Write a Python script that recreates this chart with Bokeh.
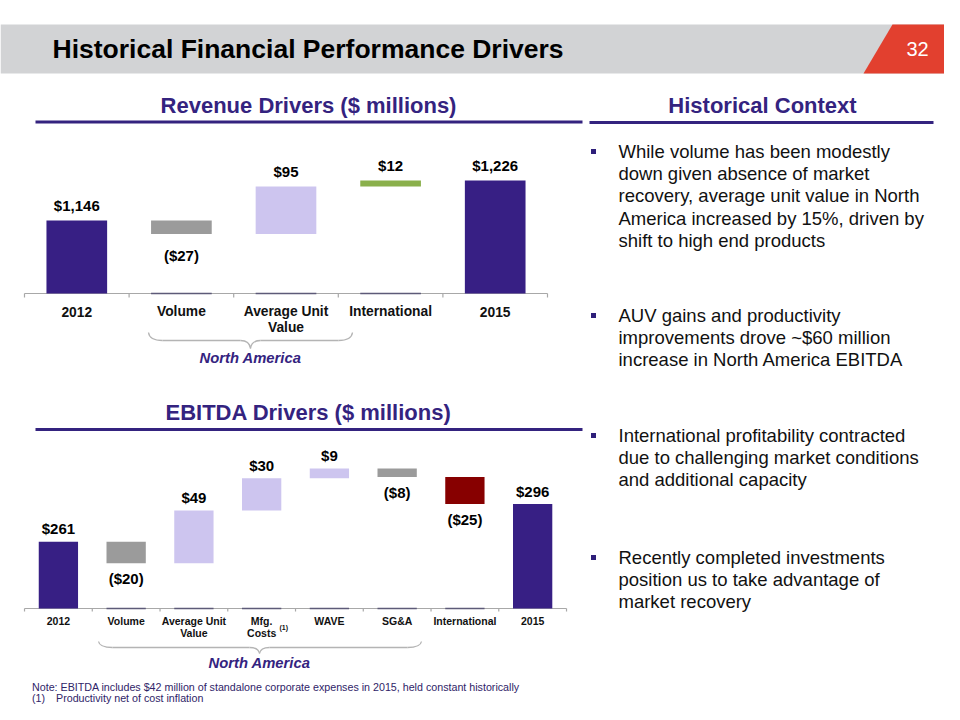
from bokeh.plotting import figure
from bokeh.models import Range1d
from bokeh.core.properties import value
from bokeh.embed import file_html
from bokeh.resources import INLINE

# ---------------- data ----------------
rev_categories = ["2012", "Volume", "Average Unit\nValue", "International", "2015"]
rev_values = [1146, -27, 95, 12, 1226]
rev_labels = ["$1,146", "($27)", "$95", "$12", "$1,226"]
rev_base = 1000

ebitda_categories = ["2012", "Volume", "Average Unit\nValue", "Mfg.\nCosts", "WAVE", "SG&A", "International", "2015"]
ebitda_values = [261, -20, 49, 30, 9, -8, -25, 296]
ebitda_labels = ["$261", "($20)", "$49", "$30", "$9", "($8)", "($25)", "$296"]
ebitda_base = 199

bullets = [
    "While volume has been modestly\ndown given absence of market\nrecovery, average unit value in North\nAmerica increased by 15%, driven by\nshift to high end products",
    "AUV gains and productivity\nimprovements drove ~$60 million\nincrease in North America EBITDA",
    "International profitability contracted\ndue to challenging market conditions\nand additional capacity",
    "Recently completed investments\nposition us to take advantage of\nmarket recovery",
]

# ---------------- styles ----------------
DARK = "#371f84"
GRAY = "#9b9b9b"
LAV = "#cdc5ef"
GREEN = "#8ab04c"
RED = "#870000"
TITLE = "#34237f"
AXIS = "#a8a8a8"
FONT = value("Liberation Sans")

rev_colors = [DARK, GRAY, LAV, GREEN, DARK]
ebitda_colors = [DARK, GRAY, LAV, LAV, LAV, GRAY, RED, DARK]


def waterfall(vals, base):
    bottoms, tops = [], []
    run = 0
    n = len(vals)
    for i, v in enumerate(vals):
        if i == 0 or i == n - 1:
            bottoms.append(base)
            tops.append(v)
            run = v
        else:
            new = run + v
            bottoms.append(min(run, new))
            tops.append(max(run, new))
            run = new
    return bottoms, tops


W, H = 944, 704
p = figure(width=W, height=H, x_range=Range1d(0, 944), y_range=Range1d(704, 0),
           x_axis_type=None, y_axis_type=None, toolbar_location=None,
           output_backend="svg", min_border=0, outline_line_color=None)
p.background_fill_color = "white"
p.border_fill_color = "white"
p.grid.visible = False

p.extra_x_ranges = {"rx": Range1d(-0.7294, 8.2954), "ex": Range1d(-0.8546, 13.079)}
p.extra_y_ranges = {"ry": Range1d(178, 1586), "ey": Range1d(109.86, 763.53)}

# ---------------- header ----------------
p.quad(left=[0], right=[944], top=[24], bottom=[73], fill_color="#d2d3d5", line_color=None)
p.patch([892, 944, 944, 863], [24, 24, 73, 73], fill_color="#e2402f", line_color=None)
p.text(x=[52], y=[48], text=["Historical Financial Performance Drivers"], text_font=FONT,
       text_font_style="bold", text_font_size="26.5px", text_color="black",
       text_baseline="middle", text_align="left")
p.text(x=[917], y=[48], text=["32"], text_font=FONT, text_font_size="20px",
       text_color="white", text_baseline="middle", text_align="center")

# ---------------- section titles ----------------
p.text(x=[308, 308, 762], y=[105, 412, 105],
       text=["Revenue Drivers ($ millions)", "EBITDA Drivers ($ millions)", "Historical Context"],
       text_font=FONT, text_font_style="bold", text_font_size="22px", text_color=TITLE,
       text_baseline="middle", text_align="center")
p.segment(x0=[35, 35, 589], y0=[121.5, 429, 122], x1=[582, 582, 933], y1=[121.5, 429, 122],
          line_color=TITLE, line_width=3)


def draw_chart(cats, vals, labels, colors, base, xr, yr, tick_units, label_up, label_dn,
               cat_y, cat_dy, cat_size, val_size):
    n = len(vals)
    idx = list(range(n))
    bottoms, tops = waterfall(vals, base)
    # axis line and ticks
    p.segment(x0=[-0.5], y0=[base], x1=[n - 0.5], y1=[base], line_color=AXIS, line_width=1.2,
              x_range_name=xr, y_range_name=yr)
    tx = [i - 0.5 for i in range(n + 1)]
    p.segment(x0=tx, y0=[base] * len(tx), x1=tx, y1=[base - tick_units] * len(tx),
              line_color=AXIS, line_width=1.2, x_range_name=xr, y_range_name=yr)
    # hidden base bars outline at baseline
    mids = idx[1:-1]
    p.segment(x0=[i - 0.29 for i in mids], y0=[base] * len(mids),
              x1=[i + 0.29 for i in mids], y1=[base] * len(mids),
              line_color="#5d5a78", line_width=1.6, x_range_name=xr, y_range_name=yr)
    # bars
    p.vbar(x=idx, width=0.58, bottom=bottoms, top=tops, fill_color=colors, line_color=None,
           x_range_name=xr, y_range_name=yr)
    # value labels
    ly, lo = [], []
    for i, v in enumerate(vals):
        if v >= 0:
            ly.append(tops[i]); lo.append(-label_up)
        else:
            ly.append(bottoms[i]); lo.append(label_dn)
    p.text(x=idx, y=ly, y_offset=lo, text=labels, text_font=FONT, text_font_style="bold",
           text_font_size=val_size, text_color="black", text_align="center",
           text_baseline="middle", x_range_name=xr, y_range_name=yr)
    # category labels
    cx, cy, ct = [], [], []
    for i, c in enumerate(cats):
        for j, line in enumerate(c.split("\n")):
            cx.append(i); cy.append(cat_y + j * cat_dy); ct.append(line)
    p.text(x=cx, y=cy, text=ct, text_font=FONT, text_font_style="bold",
           text_font_size=cat_size, text_color="#111111", text_align="center",
           text_baseline="middle", x_range_name=xr)


draw_chart(rev_categories, rev_values, rev_labels, rev_colors, rev_base, "rx", "ry",
           8, 15, 21, 311, 16, "13.8px", "15px")
draw_chart(ebitda_categories, ebitda_values, ebitda_labels, ebitda_colors, ebitda_base, "ex", "ey",
           2.8, 13, 15, 620, 12.5, "10.5px", "15px")

# footnote marker on Mfg. Costs
p.text(x=[279], y=[627], text=["(1)"], text_font=FONT, text_font_style="bold",
       text_font_size="7px", text_color="#111111", text_align="left", text_baseline="middle")


# ---------------- braces ----------------
def brace(xl, xr, xm, ytop, ymid, ytip):
    qx0 = [xl, xm - 10, xm, xr - 14]
    qy0 = [ytop, ymid, ytip, ymid]
    qx1 = [xl + 14, xm, xm + 10, xr]
    qy1 = [ymid, ytip, ymid, ytop]
    qcx = [xl + 1, xm - 1, xm + 1, xr - 1]
    qcy = [ymid, ymid, ymid, ymid]
    p.quadratic(x0=qx0, y0=qy0, x1=qx1, y1=qy1, cx=qcx, cy=qcy, line_color="#b4b4b4", line_width=1.3)
    p.segment(x0=[xl + 14, xm + 10], y0=[ymid, ymid], x1=[xm - 10, xr - 14], y1=[ymid, ymid],
              line_color="#b4b4b4", line_width=1.3)


brace(148, 352, 250, 332, 340, 348)
brace(98, 421, 259, 641, 647, 653)
p.text(x=[250, 259], y=[357, 662], text=["North America", "North America"], text_font=FONT,
       text_font_style="bold italic", text_font_size="14.8px", text_color=TITLE,
       text_align="center", text_baseline="middle")

# ---------------- notes ----------------
p.text(x=[31.5, 31.5, 55.5], y=[686, 697, 697],
       text=["Note: EBITDA includes $42 million of standalone corporate expenses in 2015, held constant historically",
             "(1)", "Productivity net of cost inflation"],
       text_font=FONT, text_font_size="10.7px", text_color="#2f2468",
       text_align="left", text_baseline="middle")

# ---------------- bullets ----------------
bullet_y = [151, 315, 435, 557]
bx, by, bt = [], [], []
for b, y0 in zip(bullets, bullet_y):
    for j, line in enumerate(b.split("\n")):
        bx.append(618); by.append(y0 + j * 22.2); bt.append(line)
p.text(x=bx, y=by, text=bt, text_font=FONT, text_font_size="18.5px", text_color="#111111",
       text_align="left", text_baseline="middle")
p.scatter(x=[593] * 4, y=bullet_y, marker="square", size=5, fill_color="#2e1f7a", line_color=None)

open("out.html", "w").write(file_html(p, INLINE))
